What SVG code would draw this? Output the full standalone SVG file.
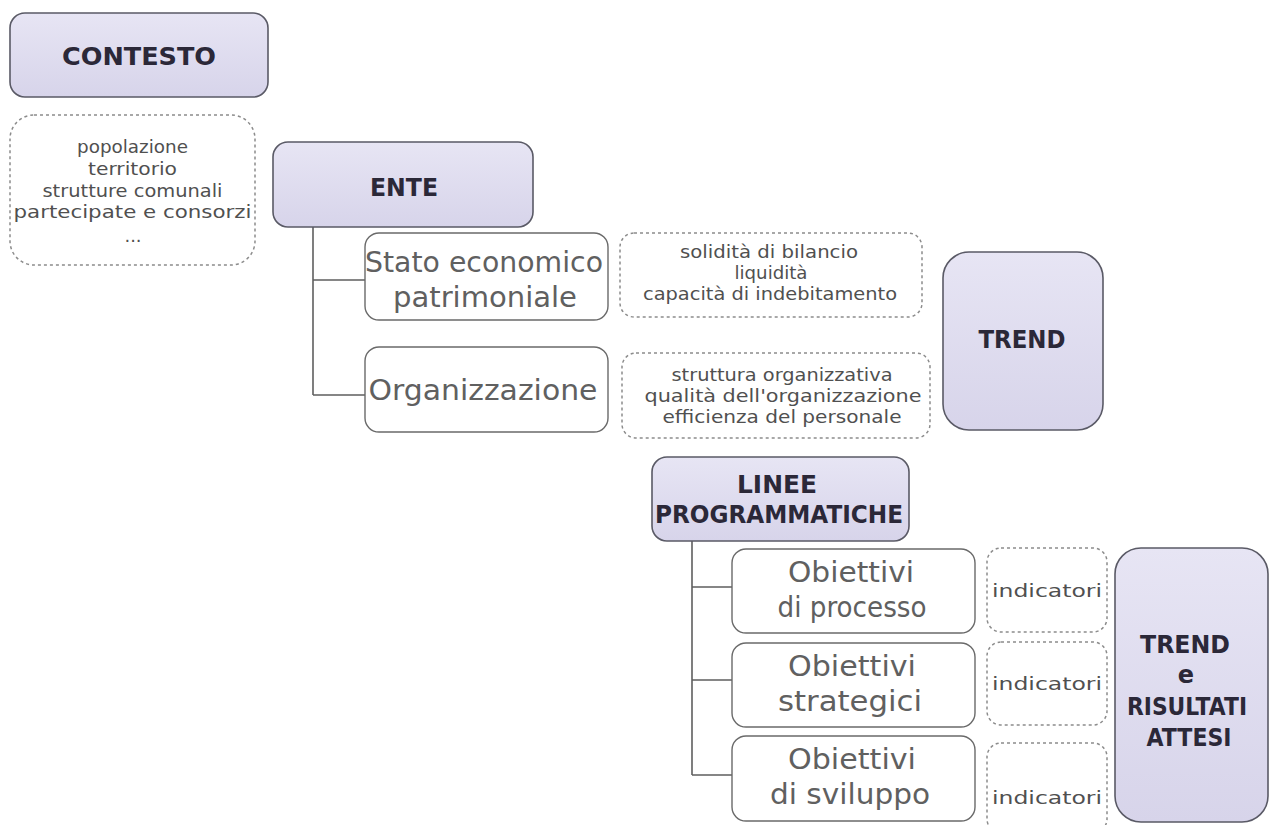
<svg xmlns="http://www.w3.org/2000/svg" width="1271" height="825" viewBox="0 0 1271 825">
<defs>
<linearGradient id="lav" x1="0" y1="0" x2="0" y2="1">
<stop offset="0" stop-color="#E7E5F4"/>
<stop offset="1" stop-color="#D7D4EA"/>
</linearGradient>
<style>
.main{fill:url(#lav);stroke:#5a5a66;stroke-width:1.6}
.sub{fill:#fff;stroke:#6a6a6a;stroke-width:1.4}
.dot{fill:#fff;stroke:#8c8c8c;stroke-width:1.5;stroke-dasharray:3 3}
.conn{fill:none;stroke:#5f5f5f;stroke-width:1.6}
text{font-family:"DejaVu Sans","Liberation Sans",sans-serif;text-anchor:middle}
.tb{font-weight:bold;fill:#2b2838;font-size:24px}
.ts{fill:#606060;font-size:28px}
.td{fill:#505050;font-size:18px}
</style>
</defs>
<rect width="1271" height="825" fill="#fff"/>

<g id="connectors">
<path class="conn" d="M313 227 V395 M313 280 H365 M313 395 H365"/>
<path class="conn" d="M692 541 V775 M692 587 H732 M692 680 H732 M692 775 H732"/>
</g>

<g id="contesto">
<rect class="main" x="10" y="13" width="258" height="84" rx="15"/>
<text class="tb" x="139" y="65" font-size="25" textLength="154" lengthAdjust="spacingAndGlyphs">CONTESTO</text>
</g>

<g id="contesto-dettagli">
<rect class="dot" x="10" y="115" width="245" height="150" rx="24"/>
<text class="td" x="132.5" y="153" textLength="111" lengthAdjust="spacingAndGlyphs">popolazione</text>
<text class="td" x="132.5" y="175" textLength="89" lengthAdjust="spacingAndGlyphs">territorio</text>
<text class="td" x="132.5" y="197" textLength="180" lengthAdjust="spacingAndGlyphs">strutture comunali</text>
<text class="td" x="132.5" y="218" textLength="238" lengthAdjust="spacingAndGlyphs">partecipate e consorzi</text>
<text class="td" x="133" y="242">...</text>
</g>

<g id="ente">
<rect class="main" x="273" y="142" width="260" height="85" rx="15"/>
<text class="tb" x="404" y="196" textLength="68" lengthAdjust="spacingAndGlyphs">ENTE</text>
</g>

<g id="stato">
<rect class="sub" x="365" y="233" width="243" height="87" rx="14"/>
<text class="ts" x="484" y="272" textLength="238" lengthAdjust="spacingAndGlyphs">Stato economico</text>
<text class="ts" x="485" y="307" textLength="184" lengthAdjust="spacingAndGlyphs">patrimoniale</text>
</g>

<g id="organizzazione">
<rect class="sub" x="365" y="347" width="243" height="85" rx="14"/>
<text class="ts" x="483" y="400" textLength="229" lengthAdjust="spacingAndGlyphs">Organizzazione</text>
</g>

<g id="stato-dettagli">
<rect class="dot" x="620" y="233" width="302" height="84" rx="14"/>
<text class="td" x="769" y="258" textLength="178" lengthAdjust="spacingAndGlyphs">solidità di bilancio</text>
<text class="td" x="771" y="279" textLength="73" lengthAdjust="spacingAndGlyphs">liquidità</text>
<text class="td" x="770" y="300" textLength="254" lengthAdjust="spacingAndGlyphs">capacità di indebitamento</text>
</g>

<g id="organizzazione-dettagli">
<rect class="dot" x="622" y="353" width="308" height="85" rx="14"/>
<text class="td" x="782" y="381" textLength="221" lengthAdjust="spacingAndGlyphs">struttura organizzativa</text>
<text class="td" x="783" y="402" textLength="277" lengthAdjust="spacingAndGlyphs">qualità dell'organizzazione</text>
<text class="td" x="782" y="423" textLength="239" lengthAdjust="spacingAndGlyphs">efficienza del personale</text>
</g>

<g id="trend">
<rect class="main" x="943" y="252" width="160" height="178" rx="26"/>
<text class="tb" x="1022" y="348" textLength="87" lengthAdjust="spacingAndGlyphs">TREND</text>
</g>

<g id="linee">
<rect class="main" x="652" y="457" width="257" height="84" rx="15"/>
<text class="tb" x="777" y="493" textLength="80" lengthAdjust="spacingAndGlyphs">LINEE</text>
<text class="tb" x="779" y="523" textLength="248" lengthAdjust="spacingAndGlyphs">PROGRAMMATICHE</text>
</g>

<g id="obiettivi-processo">
<rect class="sub" x="732" y="549" width="243" height="84" rx="14"/>
<text class="ts" x="851" y="582" font-size="26" textLength="126" lengthAdjust="spacingAndGlyphs">Obiettivi</text>
<text class="ts" x="852" y="617" font-size="26" textLength="149" lengthAdjust="spacingAndGlyphs">di processo</text>
</g>

<g id="obiettivi-strategici">
<rect class="sub" x="732" y="643" width="243" height="84" rx="14"/>
<text class="ts" x="852" y="676" font-size="26" textLength="128" lengthAdjust="spacingAndGlyphs">Obiettivi</text>
<text class="ts" x="850" y="711" font-size="26" textLength="144" lengthAdjust="spacingAndGlyphs">strategici</text>
</g>

<g id="obiettivi-sviluppo">
<rect class="sub" x="732" y="736" width="243" height="85" rx="14"/>
<text class="ts" x="852" y="769" font-size="26" textLength="128" lengthAdjust="spacingAndGlyphs">Obiettivi</text>
<text class="ts" x="850" y="804" font-size="26" textLength="160" lengthAdjust="spacingAndGlyphs">di sviluppo</text>
</g>

<g id="indicatori-1">
<rect class="dot" x="987" y="548" width="120" height="84" rx="14"/>
<text class="td" x="1047" y="597" font-size="21" textLength="110" lengthAdjust="spacingAndGlyphs">indicatori</text>
</g>

<g id="indicatori-2">
<rect class="dot" x="987" y="642" width="120" height="83" rx="14"/>
<text class="td" x="1047" y="690" font-size="21" textLength="110" lengthAdjust="spacingAndGlyphs">indicatori</text>
</g>

<g id="indicatori-3">
<rect class="dot" x="987" y="743" width="120" height="90" rx="14"/>
<text class="td" x="1047" y="804" font-size="21" textLength="110" lengthAdjust="spacingAndGlyphs">indicatori</text>
</g>

<g id="trend-risultati">
<rect class="main" x="1115" y="548" width="153" height="274" rx="26"/>
<text class="tb" x="1185" y="653" textLength="90" lengthAdjust="spacingAndGlyphs">TREND</text>
<text class="tb" x="1186" y="683">e</text>
<text class="tb" x="1187" y="715" textLength="120" lengthAdjust="spacingAndGlyphs">RISULTATI</text>
<text class="tb" x="1189" y="746" textLength="85" lengthAdjust="spacingAndGlyphs">ATTESI</text>
</g>
</svg>
